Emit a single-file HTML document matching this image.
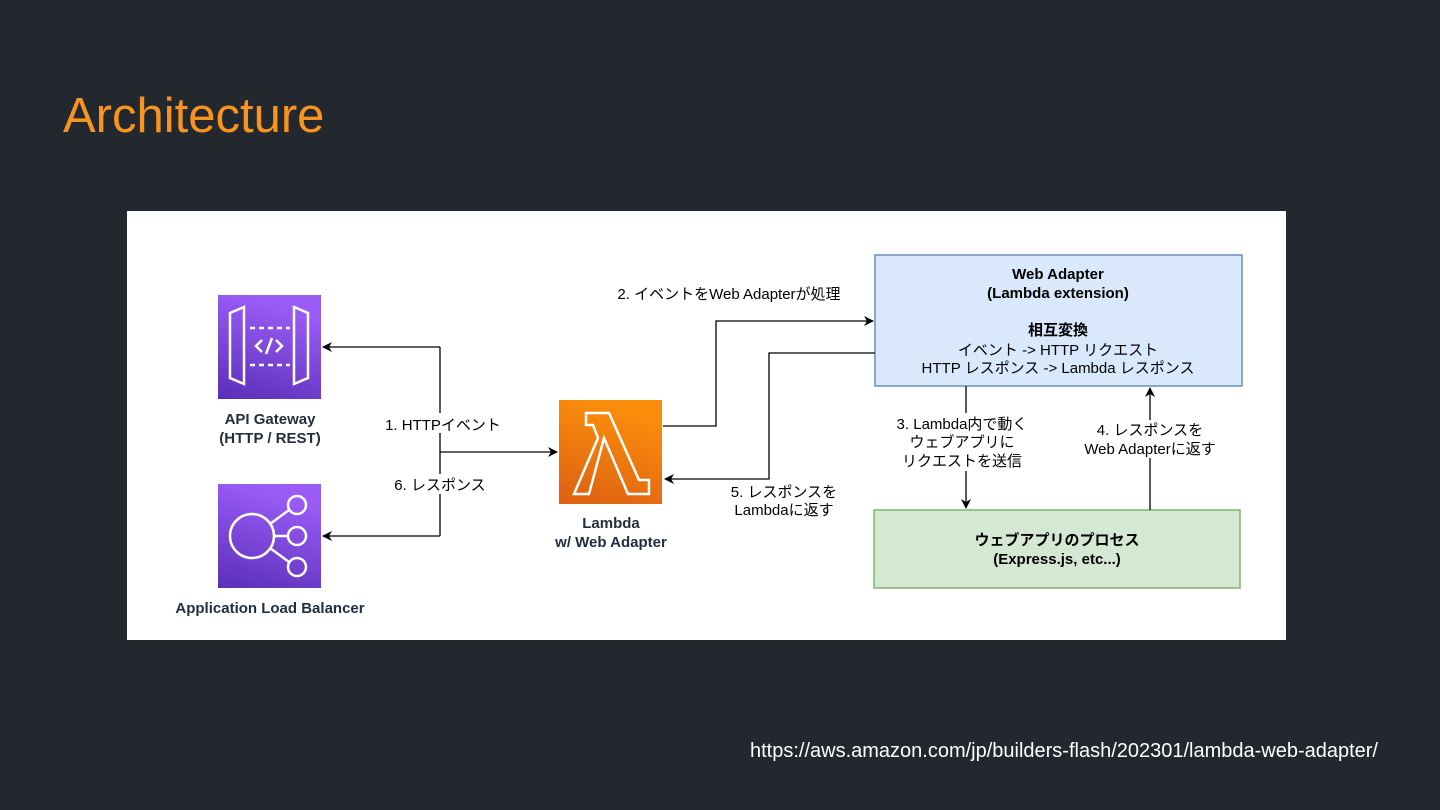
<!DOCTYPE html>
<html><head><meta charset="utf-8"><style>
html,body{margin:0;padding:0;background:#23272e;width:1440px;height:810px;overflow:hidden}
svg{display:block}
text{font-family:"Liberation Sans","Noto Sans CJK JP",sans-serif}
</style></head><body>
<svg width="1440" height="810" viewBox="0 0 1440 810" xmlns="http://www.w3.org/2000/svg">
<defs>
<linearGradient id="pg" x1="0" y1="1" x2="0.3" y2="0"><stop offset="0" stop-color="#5a2fb8"/><stop offset="1" stop-color="#9b5cf6"/></linearGradient>
<linearGradient id="og" x1="0" y1="1" x2="0.3" y2="0"><stop offset="0" stop-color="#de5f12"/><stop offset="1" stop-color="#fa8d0c"/></linearGradient>
<marker id="ar" markerWidth="10" markerHeight="10" refX="9" refY="5" orient="auto" markerUnits="userSpaceOnUse"><path d="M0,0 L10,5 L0,10 L3,5 Z" fill="#000"/></marker>
</defs>
<rect width="1440" height="810" fill="#23272e"/>
<text x="63" y="132" font-size="49" fill="#f7941d">Architecture</text>
<rect x="127" y="211" width="1159" height="429" fill="#fff"/>

<rect x="218" y="295" width="103" height="104" fill="url(#pg)"/>
<g fill="none" stroke="#fff" stroke-width="2.5">
<path d="M230,313 L244,307 L244,384 L230,378 Z"/>
<path d="M308,313 L294,307 L294,384 L308,378 Z"/>
<path d="M250,328 H290 M250,365 H290" stroke-dasharray="5,4"/>
<path d="M262,340 L256,346 L262,352 M276,340 L282,346 L276,352 M272,338 L266,354"/>
</g>
<text x="270" y="424" font-size="15" font-weight="bold" text-anchor="middle" fill="#232f3e">API Gateway</text>
<text x="270" y="443" font-size="15" font-weight="bold" text-anchor="middle" fill="#232f3e">(HTTP / REST)</text>

<rect x="218" y="484" width="103" height="104" fill="url(#pg)"/>
<g fill="none" stroke="#fff" stroke-width="2.5">
<circle cx="252" cy="536" r="22"/>
<circle cx="297" cy="505" r="9"/><circle cx="297" cy="536" r="9"/><circle cx="297" cy="567" r="9"/>
<path d="M270,524 L289,510 M274,536 H288 M270,548 L289,562"/>
</g>
<text x="270" y="613" font-size="15" font-weight="bold" text-anchor="middle" fill="#232f3e">Application Load Balancer</text>

<rect x="559" y="400" width="103" height="104" fill="url(#og)"/>
<path d="M586,413 L609,413 L639,480 L649,480 L649,494 L628,494 L604,438 L589,494 L574,494 L598,438 L593,425 L586,425 Z" fill="none" stroke="#fff" stroke-width="2.5"/>
<text x="611" y="528" font-size="15" font-weight="bold" text-anchor="middle" fill="#232f3e">Lambda</text>
<text x="611" y="547" font-size="15" font-weight="bold" text-anchor="middle" fill="#232f3e">w/ Web Adapter</text>

<rect x="875" y="255" width="367" height="131" fill="#dae8fc" stroke="#6c8ebf" stroke-width="1.5"/>
<g font-size="15" text-anchor="middle" fill="#000">
<text x="1058" y="279" font-weight="bold">Web Adapter</text>
<text x="1058" y="298" font-weight="bold">(Lambda extension)</text>
<text x="1058" y="335" font-weight="bold">相互変換</text>
<text x="1058" y="355">イベント -&gt; HTTP リクエスト</text>
<text x="1058" y="373">HTTP レスポンス -&gt; Lambda レスポンス</text>
</g>

<rect x="874" y="510" width="366" height="78" fill="#d5e8d4" stroke="#82b366" stroke-width="1.5"/>
<text x="1057" y="545" font-size="15" font-weight="bold" text-anchor="middle">ウェブアプリのプロセス</text>
<text x="1057" y="564" font-size="15" font-weight="bold" text-anchor="middle">(Express.js, etc...)</text>

<g fill="none" stroke="#000" stroke-width="1.3">
<path d="M440,347 V536"/>
<path d="M440,347 H323" marker-end="url(#ar)"/>
<path d="M440,536 H323" marker-end="url(#ar)"/>
<path d="M440,452 H557" marker-end="url(#ar)"/>
<path d="M663,426 H716 V321 H873" marker-end="url(#ar)"/>
<path d="M875,353 H769 V479 H665" marker-end="url(#ar)"/>
<path d="M966,386 V508" marker-end="url(#ar)"/>
<path d="M1150,510 V388" marker-end="url(#ar)"/>
</g>

<g font-size="15" text-anchor="middle" fill="#000">
<rect x="378" y="413" width="130" height="20" fill="#fff"/>
<text x="443" y="430">1. HTTPイベント</text>
<rect x="388" y="474" width="104" height="20" fill="#fff"/>
<text x="440" y="490">6. レスポンス</text>
<text x="729" y="299">2. イベントをWeb Adapterが処理</text>
<text x="784" y="497">5. レスポンスを</text>
<text x="784" y="515">Lambdaに返す</text>
<rect x="886" y="413" width="152" height="58" fill="#fff"/>
<text x="962" y="429">3. Lambda内で動く</text>
<text x="962" y="447">ウェブアプリに</text>
<text x="962" y="466">リクエストを送信</text>
<rect x="1076" y="420" width="148" height="38" fill="#fff"/>
<text x="1150" y="435">4. レスポンスを</text>
<text x="1150" y="454">Web Adapterに返す</text>
</g>

<text x="1378" y="757" font-size="20" text-anchor="end" fill="#fff" textLength="628" lengthAdjust="spacingAndGlyphs">https://aws.amazon.com/jp/builders-flash/202301/lambda-web-adapter/</text>
</svg>
</body></html>
